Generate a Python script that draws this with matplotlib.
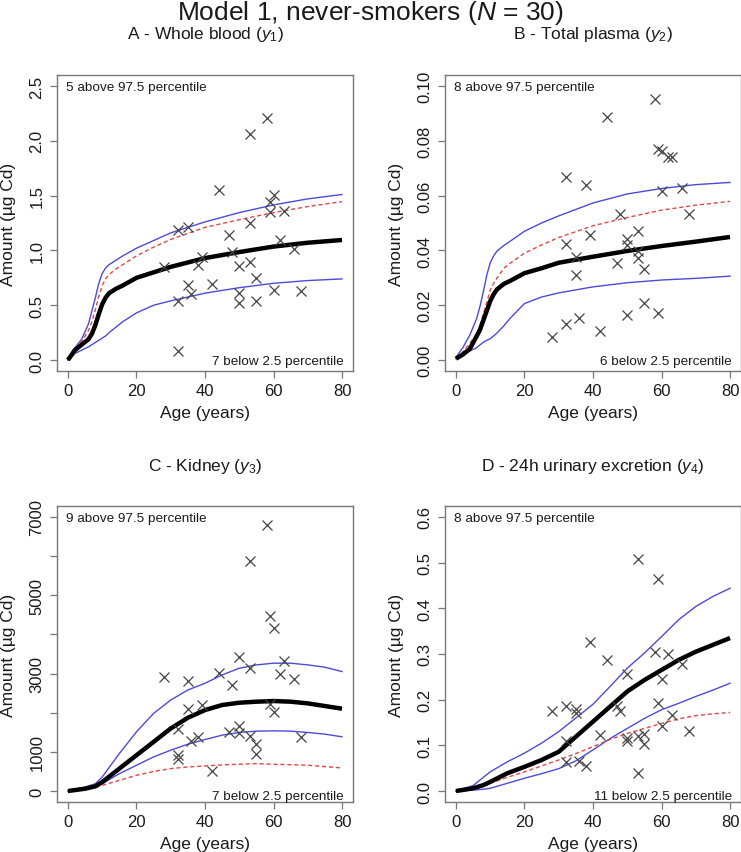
import matplotlib
matplotlib.use("Agg")
import matplotlib.pyplot as plt

plt.rcParams["font.family"] = ["Liberation Sans", "DejaVu Sans"]
plt.rcParams["mathtext.fontset"] = "custom"
plt.rcParams["mathtext.rm"] = "Liberation Sans"
plt.rcParams["mathtext.it"] = "Liberation Sans:italic"

# observed data: age of each of the 30 subjects
ages = [28, 32, 32, 32, 35, 35, 36, 38, 39, 42, 44, 47, 48, 50, 50, 50, 53, 53, 53,
        55, 55, 58, 59, 59, 60, 60, 62, 63, 66, 68]

obs_a = [0.85, 1.19, 0.54, 0.08, 1.21, 0.68, 0.60, 0.87, 0.94, 0.69, 1.555, 1.14, 0.99,
         0.86, 0.61, 0.52, 2.06, 1.25, 0.89, 0.75, 0.54, 2.21, 1.445, 1.35, 1.505, 0.64,
         1.095, 1.357, 1.016, 0.63]
obs_b = [0.0084, 0.0668, 0.0425, 0.0132, 0.0376, 0.0309, 0.0154, 0.064, 0.0457, 0.0106,
         0.0888, 0.0354, 0.0532, 0.0441, 0.0421, 0.0164, 0.0469, 0.0397, 0.0374, 0.0331,
         0.0208, 0.0952, 0.077, 0.017, 0.0761, 0.0618, 0.0742, 0.0739, 0.0626, 0.0532]
obs_c = [2906, 1573, 932, 829, 2803, 2085, 1282, 1368, 2197, 513, 3008, 1513, 2701, 1658,
         1487, 3436, 5863, 3137, 1402, 1214, 957, 6786, 4470, 2222, 4154, 2009, 2983, 3325,
         2855, 1368]
obs_d = [0.1747, 0.1864, 0.1104, 0.0643, 0.1805, 0.1703, 0.0665, 0.0548, 0.3252, 0.122,
         0.2872, 0.1864, 0.176, 0.2565, 0.1155, 0.1096, 0.509, 0.1206, 0.0387, 0.124, 0.103,
         0.304, 0.464, 0.193, 0.245, 0.1425, 0.300, 0.166, 0.2777, 0.1315]

# model curves: median, 2.5 / 97.5 percentiles, mean
t_ab = [0, 2, 4, 6, 7, 8, 9, 10, 11, 12, 14, 16, 20, 25, 30, 40, 50, 60, 70, 80]
med_a = [0, 0.09, 0.14, 0.19, 0.24, 0.32, 0.42, 0.51, 0.57, 0.61, 0.65, 0.68, 0.75, 0.80,
         0.85, 0.93, 0.985, 1.035, 1.07, 1.095]
hi_a = [0, 0.11, 0.19, 0.33, 0.45, 0.57, 0.70, 0.79, 0.84, 0.87, 0.91, 0.95, 1.02, 1.09,
        1.16, 1.26, 1.345, 1.415, 1.47, 1.51]
mean_a = [0, 0.10, 0.17, 0.27, 0.35, 0.46, 0.58, 0.68, 0.74, 0.78, 0.83, 0.87, 0.95, 1.03,
          1.10, 1.21, 1.28, 1.345, 1.40, 1.445]
lo_a = [0, 0.06, 0.09, 0.12, 0.14, 0.16, 0.18, 0.20, 0.22, 0.25, 0.30, 0.35, 0.43, 0.50,
        0.54, 0.61, 0.66, 0.70, 0.725, 0.74]

med_b = [0.0005, 0.002, 0.004, 0.0086, 0.011, 0.0145, 0.018, 0.0215, 0.024, 0.0258, 0.0278,
         0.029, 0.0317, 0.0335, 0.0355, 0.0377, 0.0398, 0.0416, 0.0432, 0.0449]
hi_b = [0.001, 0.0045, 0.009, 0.015, 0.0195, 0.025, 0.031, 0.0355, 0.038, 0.0398, 0.0418,
        0.0435, 0.047, 0.050, 0.0526, 0.0573, 0.0606, 0.0626, 0.064, 0.0648]
mean_b = [0.0005, 0.003, 0.006, 0.0095, 0.0125, 0.017, 0.021, 0.0255, 0.028, 0.030, 0.0335,
          0.0355, 0.039, 0.042, 0.0447, 0.049, 0.052, 0.0547, 0.0565, 0.0579]
lo_b = [0.0005, 0.0025, 0.0033, 0.0045, 0.0055, 0.0065, 0.0072, 0.0078, 0.0088, 0.0099,
        0.0125, 0.0155, 0.0206, 0.0230, 0.0245, 0.0267, 0.0282, 0.0292, 0.0298, 0.0306]

t_cd = [0, 5, 8, 10, 15, 20, 25, 30, 35, 40, 45, 50, 55, 60, 65, 70, 75, 80]
med_c = [0, 60, 120, 230, 573, 915, 1256, 1598, 1872, 2068, 2197, 2256, 2282, 2299, 2282,
         2239, 2171, 2103]
hi_c = [0, 100, 188, 359, 957, 1513, 1983, 2325, 2581, 2752, 2966, 3137, 3222, 3265, 3265,
        3222, 3162, 3051]
lo_c = [0, 60, 120, 188, 444, 658, 872, 1043, 1197, 1316, 1427, 1496, 1530, 1538, 1530,
        1496, 1453, 1385]
mean_c = [0, 40, 90, 145, 273, 402, 500, 573, 615, 641, 668, 684, 701, 684, 672, 658, 625,
          590]

med_d = [0, 0.006, 0.013, 0.020, 0.039, 0.053, 0.068, 0.086, 0.119, 0.152, 0.185, 0.218,
         0.243, 0.265, 0.287, 0.305, 0.320, 0.335]
hi_d = [0, 0.012, 0.030, 0.042, 0.064, 0.083, 0.105, 0.130, 0.160, 0.190, 0.229, 0.269,
        0.302, 0.338, 0.375, 0.404, 0.426, 0.444]
lo_d = [0, 0.002, 0.004, 0.006, 0.017, 0.028, 0.038, 0.049, 0.066, 0.090, 0.115, 0.137,
        0.159, 0.178, 0.192, 0.207, 0.221, 0.236]
mean_d = [0, 0.008, 0.013, 0.017, 0.030, 0.042, 0.055, 0.068, 0.082, 0.097, 0.113, 0.126,
          0.137, 0.148, 0.158, 0.165, 0.169, 0.172]

panels = [
    ("A - Whole blood ($\\mathit{y}_1$)", obs_a, t_ab, med_a, hi_a, lo_a, mean_a,
     [0, 0.5, 1.0, 1.5, 2.0, 2.5], ["0.0", "0.5", "1.0", "1.5", "2.0", "2.5"], 2.5,
     "5 above 97.5 percentile", "7 below 2.5 percentile"),
    ("B - Total plasma ($\\mathit{y}_2$)", obs_b, t_ab, med_b, hi_b, lo_b, mean_b,
     [0, 0.02, 0.04, 0.06, 0.08, 0.10], ["0.00", "0.02", "0.04", "0.06", "0.08", "0.10"], 0.1,
     "8 above 97.5 percentile", "6 below 2.5 percentile"),
    ("C - Kidney ($\\mathit{y}_3$)", obs_c, t_cd, med_c, hi_c, lo_c, mean_c,
     [0, 1000, 2000, 3000, 4000, 5000, 6000, 7000],
     ["0", "1000", "", "3000", "", "5000", "", "7000"], 7000,
     "9 above 97.5 percentile", "7 below 2.5 percentile"),
    ("D - 24h urinary excretion ($\\mathit{y}_4$)", obs_d, t_cd, med_d, hi_d, lo_d, mean_d,
     [0, 0.1, 0.2, 0.3, 0.4, 0.5, 0.6], ["0.0", "0.1", "0.2", "0.3", "0.4", "0.5", "0.6"], 0.6,
     "8 above 97.5 percentile", "11 below 2.5 percentile"),
]

W, H = 741, 853
fig = plt.figure(figsize=(W / 100, H / 100), dpi=100)
boxes = [(57, 76), (445, 76), (57, 507), (445, 507)]
bw, bh = 296, 296
edge = "#777777"
txt = "#1a1a1a"

for (title, obs, t, med, hi, lo, mean, yt, ytl, ymax, above, below), (x0, y0) in zip(panels, boxes):
    ax = fig.add_axes([x0 / W, 1 - (y0 + bh) / H, bw / W, bh / H])
    ax.plot(t, hi, color="#4b4bd8", lw=1.0)
    ax.plot(t, lo, color="#4b4bd8", lw=1.0)
    ax.plot(t, mean, color="#e04848", lw=1.0, ls=(0, (3, 2)))
    ax.plot(t, med, color="black", lw=3.2, solid_capstyle="butt")
    ax.plot(ages, obs, ls="none", marker="x", ms=7, mew=0.9, color="#444444")
    ax.set_xlim(-3.2, 83.2)
    ax.set_ylim(-0.04 * ymax, 1.04 * ymax)
    ax.set_xticks([0, 20, 40, 60, 80])
    ax.set_yticks(yt)
    ax.set_yticklabels(ytl, rotation=90, va="center")
    for s in ax.spines.values():
        s.set_color(edge)
        s.set_linewidth(1.0)
    ax.tick_params(direction="out", length=5, width=0.9, color=edge, labelsize=12,
                   labelcolor=txt, pad=4)
    ax.set_xlabel("Age (years)", fontsize=12.5, color=txt)
    ax.set_ylabel("Amount (\u00b5g Cd)", fontsize=12.5, color=txt)
    ax.xaxis.set_label_coords(0.5, -0.115)
    ax.yaxis.set_label_coords(-0.1385, 0.5)
    ax.text(0.5, 1 + 41 / bh, title, transform=ax.transAxes, ha="center", va="center",
            fontsize=12.5, color=txt)
    ax.text(9 / bw, 1 - 12 / bh, above, transform=ax.transAxes, ha="left", va="center",
            fontsize=9.7, color=txt)
    yb = 10 if y0 < 300 else 6
    ax.text(1 - 9 / bw, yb / bh, below, transform=ax.transAxes, ha="right", va="center",
            fontsize=9.7, color=txt)

fig.text(0.5, 1 - 13 / H, "Model 1, never-smokers ($\\mathit{N}$ = 30)", ha="center",
         va="center", fontsize=19, color=txt)

fig.savefig("out.png", dpi=100)
